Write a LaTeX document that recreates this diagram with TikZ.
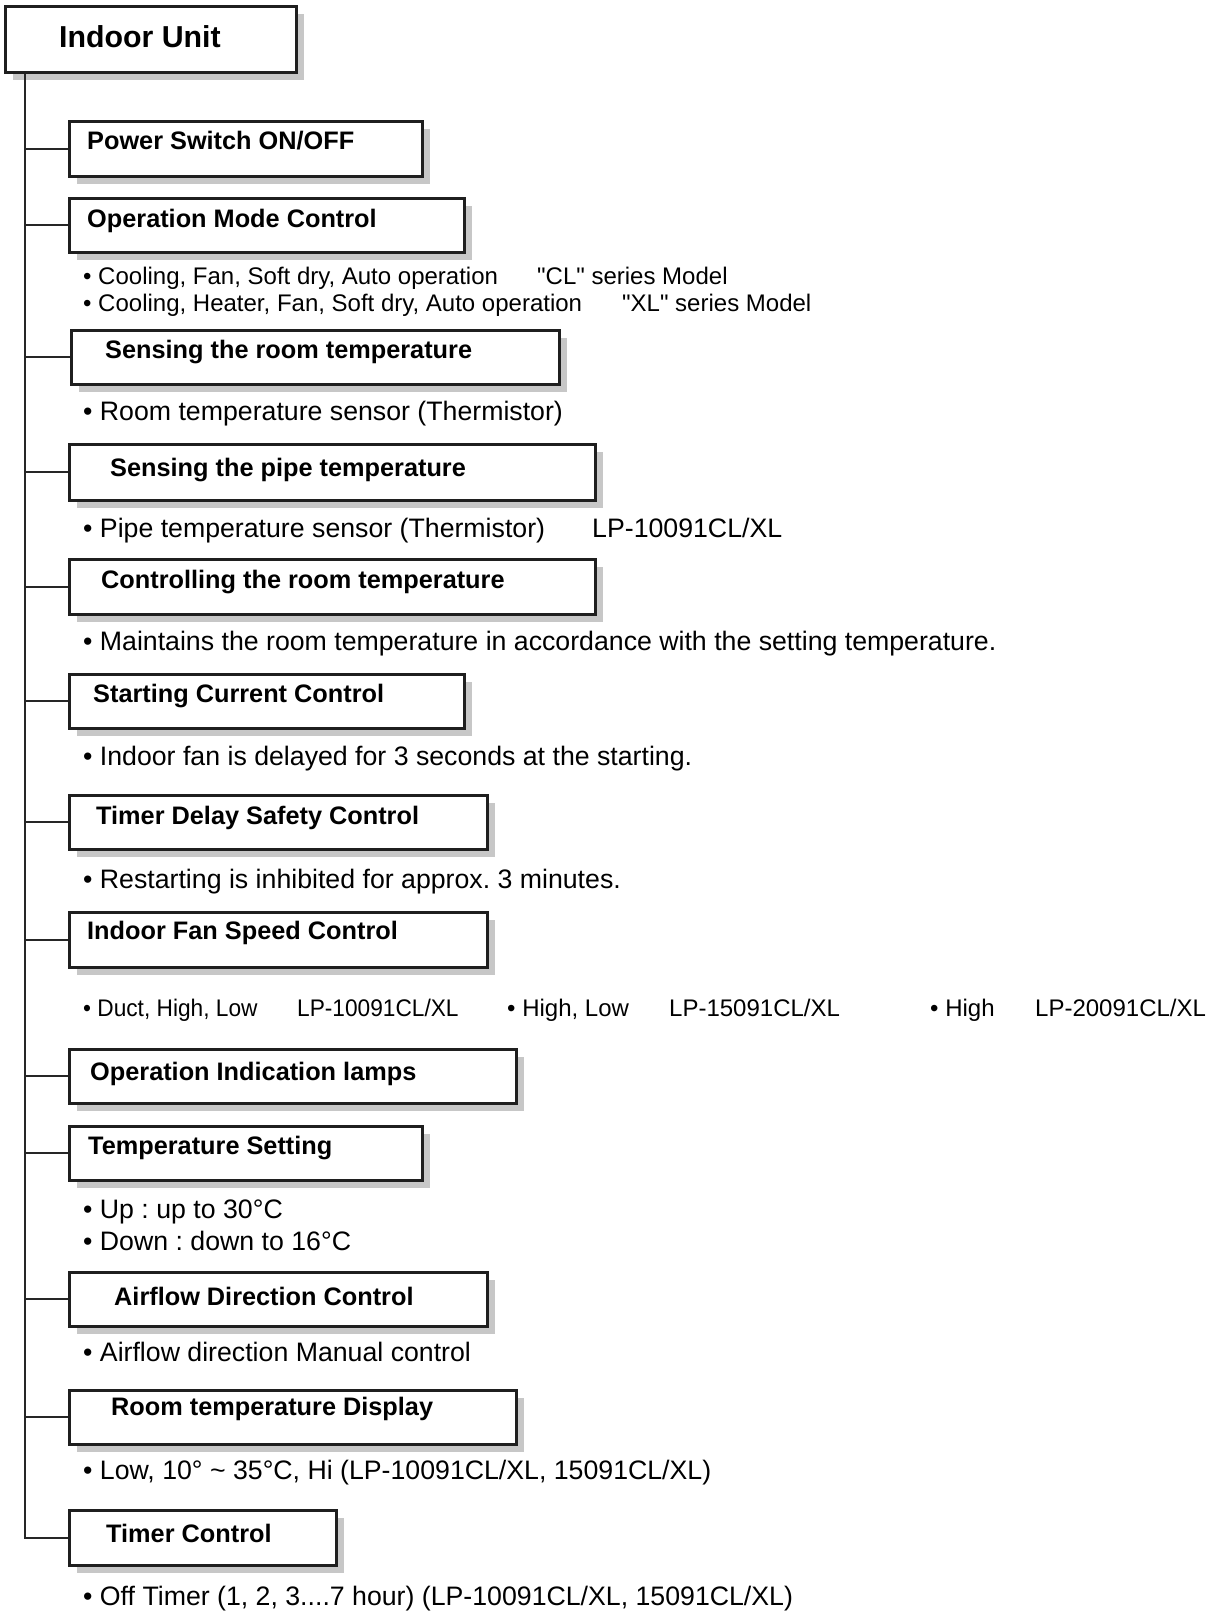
\documentclass[tikz,border=0pt]{standalone}
\usepackage{fontspec}
\setmainfont{Liberation Sans}
\newfontfamily\narrowfont[FakeStretch=0.945]{Liberation Sans}
\usetikzlibrary{shadows}
\frenchspacing
\begin{document}
\begin{tikzpicture}[x=1pt,y=-1pt,
  ubox/.style={draw=black!88, line width=2.6pt, fill=white, anchor=north west, inner sep=0pt,
     general shadow={fill=black!22, shadow xshift=8pt, shadow yshift=-8pt}},
  ttl/.style={anchor=west, inner sep=0pt, font=\fontsize{25.3}{28}\selectfont\bfseries},
  body/.style={anchor=west, inner sep=0pt, text height=0.75em, text depth=0.25em,
     font=\fontsize{26.7}{30}\selectfont},
  nbody/.style={anchor=west, inner sep=0pt, text height=0.75em, text depth=0.25em,
     font=\fontsize{24}{28}\selectfont},
  conn/.style={draw=black!85, line width=2pt}]
\useasboundingbox (0,0) rectangle (1211,1612);
\fill[white] (0,0) rectangle (1211,1612);
% boxes
\node[ubox, minimum width=291pt, minimum height=66pt] (iu) at (4,5) {};
\node[ubox, minimum width=353pt, minimum height=55pt] (b2) at (68,120) {};
\node[ubox, minimum width=395pt, minimum height=54pt] (b3) at (68,197) {};
\node[ubox, minimum width=488pt, minimum height=54pt] (b4) at (70,329) {};
\node[ubox, minimum width=526pt, minimum height=56pt] (b5) at (68,443) {};
\node[ubox, minimum width=526pt, minimum height=55pt] (b6) at (68,558) {};
\node[ubox, minimum width=395pt, minimum height=54pt] (b7) at (68,673) {};
\node[ubox, minimum width=418pt, minimum height=54pt] (b8) at (68,794) {};
\node[ubox, minimum width=418pt, minimum height=55pt] (b9) at (68,911) {};
\node[ubox, minimum width=447pt, minimum height=54pt] (b10) at (68,1048) {};
\node[ubox, minimum width=353pt, minimum height=54pt] (b11) at (68,1125) {};
\node[ubox, minimum width=418pt, minimum height=54pt] (b12) at (68,1271) {};
\node[ubox, minimum width=447pt, minimum height=54pt] (b13) at (68,1389) {};
\node[ubox, minimum width=267pt, minimum height=55pt] (b14) at (68,1509) {};
% connectors
\coordinate (tr) at (25,0);
\draw[conn] (iu.south -| tr) |- (b14.west);
\foreach \b in {b2,b3,b4,b5,b6,b7,b8,b9,b10,b11,b12,b13}{
  \draw[conn] (tr |- \b.west) -- (\b.west);
}
% titles
\node[ttl, font=\fontsize{30.3}{34}\selectfont\bfseries] (tiu) at (59,37) {Indoor Unit};
\node[ttl] (t2) at (87,141) {Power Switch ON/OFF};
\node[ttl] (t3) at (87,221) {Operation Mode Control};
\node[ttl] (t4) at (105,352) {Sensing the room temperature};
\node[ttl] (t5) at (110,470) {Sensing the pipe temperature};
\node[ttl] (t6) at (101,582) {Controlling the room temperature};
\node[ttl] (t7) at (93,696) {Starting Current Control};
\node[ttl] (t8) at (96,818) {Timer Delay Safety Control};
\node[ttl] (t9) at (87,933) {Indoor Fan Speed Control};
\node[ttl] (t10) at (90,1074) {Operation Indication lamps};
\node[ttl] (t11) at (88,1148) {Temperature Setting};
\node[ttl] (t12) at (114,1296) {Airflow Direction Control};
\node[ttl] (t13) at (111,1409) {Room temperature Display};
\node[ttl] (t14) at (106,1533) {Timer Control};
% body texts
\node[nbody] (d3a) at (83,282) {• Cooling, Fan, Soft dry, Auto operation};
\node[nbody] (d3b) at (537,282) {\textquotedbl CL\textquotedbl{} series Model};
\node[nbody] (d3c) at (83,309) {• Cooling, Heater, Fan, Soft dry, Auto operation};
\node[nbody] (d3d) at (622,309) {\textquotedbl XL\textquotedbl{} series Model};
\node[body] (d4) at (83,418) {• Room temperature sensor (Thermistor)};
\node[body] (d5a) at (83,535) {• Pipe temperature sensor (Thermistor)};
\node[body] (d5b) at (592,535) {LP-10091CL/XL};
\node[body] (d6) at (83,648) {• Maintains the room temperature in accordance with the setting temperature.};
\node[body] (d7) at (83,763) {• Indoor fan is delayed for 3 seconds at the starting.};
\node[body] (d8) at (83,886) {• Restarting is inhibited for approx. 3 minutes.};
\node[nbody, font=\narrowfont\fontsize{24}{28}\selectfont] (d9a) at (83,1014) {• Duct, High, Low};
\node[nbody, font=\narrowfont\fontsize{24}{28}\selectfont] (d9b) at (297,1014) {LP-10091CL/XL};
\node[nbody] (d9c) at (507,1014) {• High, Low};
\node[nbody] (d9d) at (669,1014) {LP-15091CL/XL};
\node[nbody] (d9e) at (930,1014) {• High};
\node[nbody] (d9f) at (1035,1014) {LP-20091CL/XL};
\node[body] (d11a) at (83,1216) {• Up : up to 30°C};
\node[body] (d11b) at (83,1248) {• Down : down to 16°C};
\node[body] (d12) at (83,1359) {• Airflow direction Manual control};
\node[body] (d13) at (83,1477) {• Low, 10° \textasciitilde{} 35°C, Hi (LP-10091CL/XL, 15091CL/XL)};
\node[body] (d14) at (83,1603) {• Off Timer (1, 2, 3....7 hour) (LP-10091CL/XL, 15091CL/XL)};
\end{tikzpicture}
\end{document}
